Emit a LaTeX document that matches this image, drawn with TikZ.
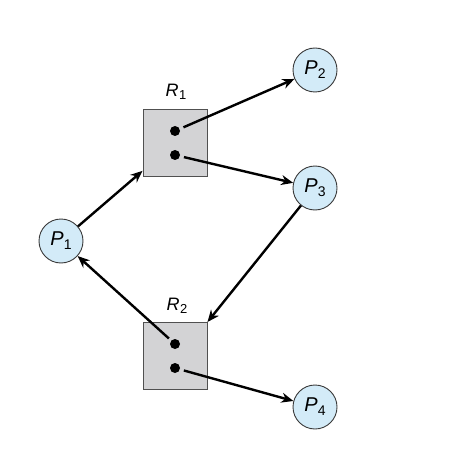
\documentclass[tikz,border=0pt]{standalone}
\usepackage{fontspec}
\setmainfont{Liberation Sans}
\usetikzlibrary{arrows.meta}
\definecolor{procfill}{HTML}{D3EBF8}
\definecolor{procline}{HTML}{3A3A3A}
\definecolor{resfill}{HTML}{D3D3D5}
\definecolor{resline}{HTML}{505050}
\newcommand{\plabel}[1]{{\fontsize{20}{20}\selectfont\textit{P}}\kern0.3pt\raisebox{-4pt}{\fontsize{14}{14}\selectfont #1}}
\newcommand{\rlabel}[1]{{\fontsize{18}{18}\selectfont\textit{R}}\kern0.3pt\raisebox{-3.5pt}{\fontsize{13}{13}\selectfont #1}}
\begin{document}
\begin{tikzpicture}[x=1pt,y=-1pt,
  proc/.style={circle,draw=procline,line width=0.9pt,fill=procfill,minimum size=44pt,inner sep=0pt},
  res/.style={rectangle,draw=resline,line width=0.9pt,fill=resfill,minimum width=64pt,minimum height=67pt,inner sep=0pt},
  dotnode/.style={circle,fill=black,minimum size=10pt,inner sep=0pt},
  lbl/.style={inner sep=0pt},
  arr/.style={-{Stealth[length=12pt,width=10pt]},line width=2.4pt,black}]
\useasboundingbox (0,0) rectangle (454,457);
\node[proc] (p1) at (61,241) {\plabel{1}};
\node[proc] (p2) at (315,70) {\plabel{2}};
\node[proc] (p3) at (315,188) {\plabel{3}};
\node[proc] (p4) at (315,407) {\plabel{4}};
\node[res] (r1) at (175,143) {};
\node[res] (r2) at (175,356) {};
\node[lbl] (l1) at (176,92) {\rlabel{1}};
\node[lbl] (l2) at (177,306) {\rlabel{2}};
\node[dotnode] (d11) at (175,131) {};
\node[dotnode] (d12) at (175,155) {};
\node[dotnode] (d21) at (175,344) {};
\node[dotnode] (d22) at (175,368) {};
\draw[arr] (p1) -- (r1);
\draw[arr,shorten <=4pt] (d11) -- (p2);
\draw[arr,shorten <=4pt] (d12) -- (p3);
\draw[arr] (p3) -- (r2.north east);
\draw[arr,shorten <=3pt] (d21) -- (p1);
\draw[arr,shorten <=4pt] (d22) -- (p4);
\end{tikzpicture}
\end{document}
